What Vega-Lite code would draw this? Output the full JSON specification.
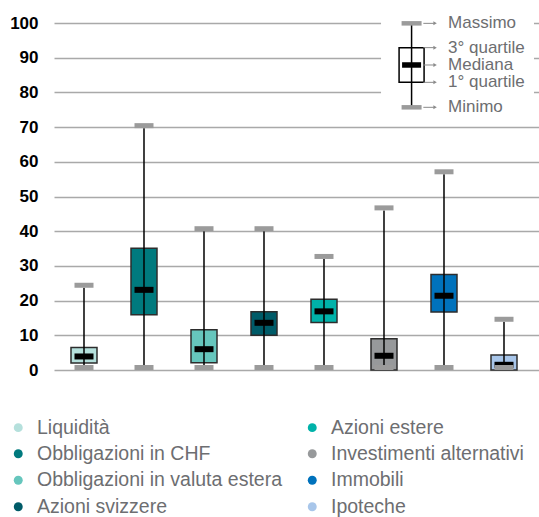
{
  "$schema": "https://vega.github.io/schema/vega-lite/v6.json",
  "width": 485,
  "height": 347,
  "autosize": {"type": "none"},
  "padding": {"left": 54, "top": 23, "right": 0, "bottom": 147},
  "background": "white",
  "config": {
    "view": {"stroke": null},
    "font": "Liberation Sans",
    "axisY": {"tickCount": 12, "labelFontSize": 17, "labelFontWeight": "bold", "labelColor": "black",
              "labelFont": "Liberation Sans", "labelPadding": 16, "ticks": false, "domain": false,
              "grid": true, "gridColor": "#a9a9a9", "gridWidth": 1.5, "title": null, "labelOverlap": false}
  },
  "datasets": {
    "boxes": [
      {"cat": "Liquidità", "min": 0, "q1": 2, "median": 3.9, "q3": 6.5, "max": 23.7},
      {"cat": "Obbligazioni in CHF", "min": 0, "q1": 15.9, "median": 23.1, "q3": 35.1, "max": 69.7},
      {"cat": "Obbligazioni in valuta estera", "min": 0, "q1": 2.1, "median": 6, "q3": 11.6, "max": 40},
      {"cat": "Azioni svizzere", "min": 0, "q1": 10, "median": 13.6, "q3": 16.8, "max": 40},
      {"cat": "Azioni estere", "min": 0, "q1": 13.7, "median": 16.9, "q3": 20.4, "max": 32},
      {"cat": "Investimenti alternativi", "min": 0, "q1": 0, "median": 4.1, "q3": 9, "max": 46},
      {"cat": "Immobili", "min": 0, "q1": 16.7, "median": 21.4, "q3": 27.5, "max": 56.4},
      {"cat": "Ipoteche", "min": 0, "q1": 0, "median": 1.5, "q3": 4.3, "max": 13.9}
    ],
    "keybox": [{"min": 75.7, "q1": 82.9, "median": 87.9, "q3": 92.9, "max": 99.9}],
    "keylabels": [
      {"label": "Massimo", "v": 99.9},
      {"label": "3° quartile", "v": 92.9},
      {"label": "Mediana", "v": 87.9},
      {"label": "1° quartile", "v": 82.9},
      {"label": "Minimo", "v": 75.7}
    ]
  },
  "layer": [
    {
      "data": {"name": "boxes"},
      "encoding": {
        "x": {"field": "cat", "type": "nominal", "sort": null,
              "scale": {"paddingInner": 0, "paddingOuter": 0.0417, "align": 0},
              "axis": null}
      },
      "layer": [
        {
          "mark": {"type": "bar", "size": 26, "stroke": "#2d2d2d", "strokeWidth": 1.5},
          "encoding": {
            "y": {"field": "q1", "type": "quantitative",
                  "scale": {"domain": [0, 100], "nice": false, "zero": true},
                  "axis": {"values": [0, 10, 20, 30, 40, 50, 60, 70, 80, 90, 100], "tickCount": 12}},
            "y2": {"field": "q3"},
            "color": {"field": "cat", "type": "nominal",
                      "scale": {"domain": ["Liquidità", "Obbligazioni in CHF", "Obbligazioni in valuta estera", "Azioni svizzere", "Azioni estere", "Investimenti alternativi", "Immobili", "Ipoteche"],
                                "range": ["#b5e0dc", "#007a7e", "#66c6bd", "#005b68", "#00b2a9", "#97999b", "#0072bc", "#a8c6ea"]},
                      "legend": {"orient": "none", "legendX": -45.5, "legendY": 394.5, "columns": 2,
                                 "symbolType": "circle", "symbolSize": 80, "symbolStrokeWidth": 0,
                                 "labelFontSize": 19.5, "labelColor": "#6d6e71", "labelFont": "Liberation Sans",
                                 "labelOffset": 9, "rowPadding": 5.5, "columnPadding": 20,
                                 "title": null, "padding": 0, "labelLimit": 400}}
          }
        },
        {
          "mark": {"type": "rule", "color": "black", "strokeWidth": 1.5},
          "encoding": {"y": {"field": "min", "type": "quantitative"}, "y2": {"field": "max"}}
        },
        {
          "mark": {"type": "tick", "color": "black", "thickness": 6, "size": 19, "opacity": 1},
          "encoding": {"y": {"field": "median", "type": "quantitative"}}
        },
        {
          "mark": {"type": "tick", "color": "#9b9b9b", "thickness": 5, "size": 19, "yOffset": -2.5, "opacity": 1},
          "encoding": {"y": {"field": "max", "type": "quantitative"}}
        },
        {
          "mark": {"type": "tick", "color": "#9b9b9b", "thickness": 5, "size": 19, "yOffset": -2.5, "opacity": 1},
          "encoding": {"y": {"field": "min", "type": "quantitative"}}
        }
      ]
    },
    {
      "layer": [
        {
          "data": {"name": "keybox"},
          "mark": {"type": "rect", "fill": "white"},
          "encoding": {
            "x": {"datum": 5.48, "type": "quantitative",
                  "scale": {"domain": [0, 8.0833], "nice": false, "zero": false}, "axis": null},
            "x2": {"datum": 8.0833},
            "y": {"datum": 72, "type": "quantitative"},
            "y2": {"datum": 103}
          }
        },
        {
          "data": {"name": "keybox"},
          "mark": {"type": "bar", "size": 25, "fill": "white", "stroke": "black", "strokeWidth": 1.5},
          "encoding": {
            "x": {"datum": 6, "type": "quantitative"},
            "y": {"field": "q1", "type": "quantitative"},
            "y2": {"field": "q3"}
          }
        },
        {
          "data": {"name": "keybox"},
          "mark": {"type": "rule", "color": "black", "strokeWidth": 1.5},
          "encoding": {
            "x": {"datum": 6, "type": "quantitative"},
            "y": {"field": "min", "type": "quantitative"},
            "y2": {"field": "max"}
          }
        },
        {
          "data": {"name": "keybox"},
          "mark": {"type": "tick", "orient": "horizontal", "color": "black", "thickness": 5.5, "size": 19, "opacity": 1},
          "encoding": {
            "x": {"datum": 6, "type": "quantitative"},
            "y": {"field": "median", "type": "quantitative"}
          }
        },
        {
          "data": {"name": "keybox"},
          "mark": {"type": "tick", "orient": "horizontal", "color": "#9b9b9b", "thickness": 4.5, "size": 20, "opacity": 1},
          "encoding": {
            "x": {"datum": 6, "type": "quantitative"},
            "y": {"field": "max", "type": "quantitative"}
          }
        },
        {
          "data": {"name": "keybox"},
          "mark": {"type": "tick", "orient": "horizontal", "color": "#9b9b9b", "thickness": 4.5, "size": 20, "opacity": 1},
          "encoding": {
            "x": {"datum": 6, "type": "quantitative"},
            "y": {"field": "min", "type": "quantitative"}
          }
        },
        {
          "data": {"name": "keylabels"},
          "mark": {"type": "rule", "color": "#8a8a8a", "strokeWidth": 1},
          "encoding": {
            "x": {"datum": 6.2, "type": "quantitative"},
            "x2": {"datum": 6.38},
            "y": {"field": "v", "type": "quantitative"}
          }
        },
        {
          "data": {"name": "keylabels"},
          "mark": {"type": "point", "shape": "triangle-right", "filled": true, "color": "#8a8a8a", "size": 16, "opacity": 1},
          "encoding": {
            "x": {"datum": 6.4, "type": "quantitative"},
            "y": {"field": "v", "type": "quantitative"}
          }
        },
        {
          "data": {"name": "keylabels"},
          "mark": {"type": "text", "align": "left", "baseline": "middle", "fontSize": 17, "color": "#6d6e71", "font": "Liberation Sans"},
          "encoding": {
            "x": {"datum": 6.62, "type": "quantitative"},
            "y": {"field": "v", "type": "quantitative"},
            "text": {"field": "label"}
          }
        }
      ]
    }
  ],
  "resolve": {"scale": {"x": "independent"}}
}
